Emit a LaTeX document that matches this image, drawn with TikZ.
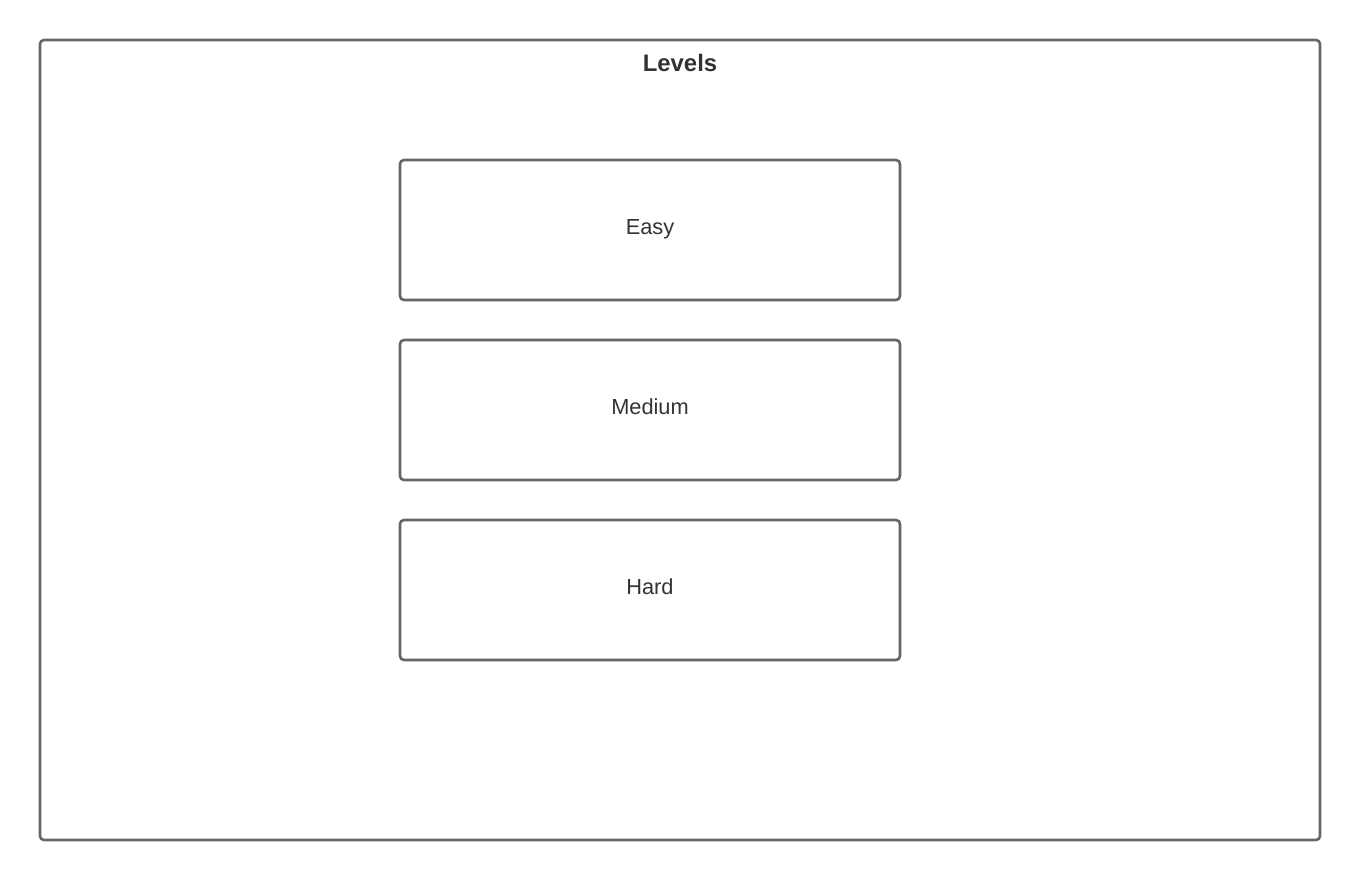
\documentclass[tikz,border=0pt]{standalone}
\usepackage{fontspec}
\setmainfont{Liberation Sans}
\usepackage{xcolor}
\usetikzlibrary{positioning}
\definecolor{edgegray}{HTML}{666666}
\definecolor{textgray}{HTML}{333333}
\begin{document}
\begin{tikzpicture}[
    frame/.style={draw=edgegray, line width=1.5pt, rounded corners=0.08cm, minimum width=25.6cm, minimum height=16cm},
    level/.style={draw=edgegray, line width=1.5pt, rounded corners=0.08cm, fill=white, minimum width=10cm, minimum height=2.8cm, text height=0.31cm, text depth=0.15cm, align=center, font=\fontsize{12.4}{15}\selectfont, text=textgray},
    title/.style={font=\fontsize{13.6}{16}\selectfont\bfseries, text=textgray}
]
\useasboundingbox (0,0) rectangle (27.2,-17.6);
\node[frame] (levels) at (13.6,-8.8) {};
\node[title] (levelstitle) at (13.6,-1.26) {Levels};
\node[level] (easy) at (13,-4.6) {Easy};
\node[level] (medium) at (13,-8.2) {Medium};
\node[level] (hard) at (13,-11.8) {Hard};
\end{tikzpicture}
\end{document}
